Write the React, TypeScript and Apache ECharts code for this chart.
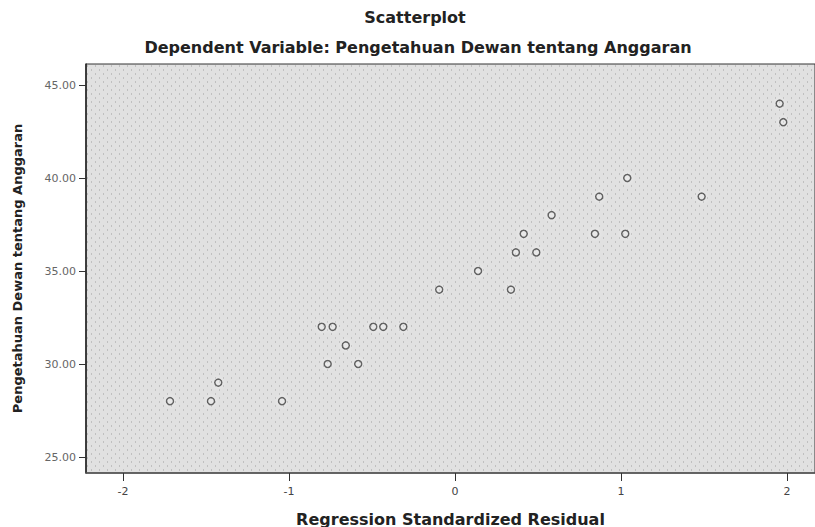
import React, { useEffect, useRef } from "react";
import * as echarts from "echarts";

const titleText = "Scatterplot";
const subtitleText = "Dependent Variable: Pengetahuan Dewan tentang Anggaran";
const xAxisName = "Regression Standardized Residual";
const yAxisName = "Pengetahuan Dewan tentang Anggaran";

const xTicks = [-2, -1, 0, 1, 2];
const yTicks = [25, 30, 35, 40, 45];

const residuals = [
  1.956, 1.978, 1.038, 0.869, 1.486, 0.582, 0.414, 0.843, 1.026, 0.367,
  0.49, 0.139, -0.095, 0.337, -0.803, -0.737, -0.492, -0.432, -0.311, -0.658,
  -0.767, -0.583, -1.426, -1.717, -1.47, -1.042,
];
const knowledge = [
  44, 43, 40, 39, 39, 38, 37, 37, 37, 36,
  36, 35, 34, 34, 32, 32, 32, 32, 32, 31,
  30, 30, 29, 28, 28, 28,
];

function makeTile(): HTMLCanvasElement | null {
  try {
    const c = document.createElement("canvas");
    c.width = 8;
    c.height = 8;
    const ctx = c.getContext("2d");
    if (!ctx) return null;
    ctx.fillStyle = "#e1e1e1";
    ctx.fillRect(0, 0, 8, 8);
    ctx.fillStyle = "#c0c0c0";
    ctx.fillRect(1, 1, 1, 2);
    ctx.fillRect(5, 5, 1, 2);
    return c;
  } catch (e) {
    return null;
  }
}

export default function App() {
  const ref = useRef<HTMLDivElement>(null);
  useEffect(() => {
    if (!ref.current) return;
    const chart = echarts.init(ref.current, undefined, { renderer: "svg" });
    const data = residuals.map((x, i) => [x, knowledge[i]]);
    const font = "DejaVu Sans";
    const tile = makeTile();
    chart.setOption({
      animation: false,
      backgroundColor: "#ffffff",
      title: [
        {
          text: titleText,
          left: 410,
          top: 4,
          textAlign: "center",
          textStyle: { fontFamily: font, fontWeight: "bold", fontSize: 16, color: "#222" },
        },
        {
          text: subtitleText,
          left: 413,
          top: 34,
          textAlign: "center",
          textStyle: { fontFamily: font, fontWeight: "bold", fontSize: 16, color: "#222" },
        },
      ],
      graphic: tile
        ? [
            {
              type: "rect",
              left: 86,
              top: 64,
              z: -10,
              silent: true,
              shape: { width: 729, height: 409 },
              style: { fill: { image: tile, repeat: "repeat" } as any },
            },
          ]
        : [],
      grid: {
        left: 86,
        top: 64,
        right: 0,
        bottom: 54,
        outerBoundsMode: "none",
        containLabel: false,
        show: true,
        backgroundColor: tile ? "rgba(0,0,0,0)" : "#dcdcdc",
        borderColor: "#333",
        borderWidth: 1,
      },
      xAxis: {
        type: "value",
        min: -2.223,
        max: 2.169,
        name: xAxisName,
        nameLocation: "middle",
        nameGap: 38,
        nameTextStyle: { fontFamily: font, fontWeight: "bold", fontSize: 16, color: "#222" },
        splitLine: { show: false },
        axisLine: { show: true, onZero: false, lineStyle: { color: "#555", width: 1.5 } },
        axisTick: { show: true, length: 8, customValues: xTicks, lineStyle: { color: "#333" } },
        axisLabel: {
          customValues: xTicks,
          fontFamily: font,
          fontSize: 11,
          color: "#444",
          margin: 13,
          formatter: (v: number) => String(v),
        },
      },
      yAxis: {
        type: "value",
        min: 24.14,
        max: 46.13,
        name: yAxisName,
        nameLocation: "middle",
        nameGap: 62,
        nameTextStyle: { fontFamily: font, fontWeight: "bold", fontSize: 13, color: "#222" },
        splitLine: { show: false },
        axisLine: { show: true, onZero: false, lineStyle: { color: "#222", width: 1.5 } },
        axisTick: { show: true, length: 7, customValues: yTicks, lineStyle: { color: "#333" } },
        axisLabel: {
          customValues: yTicks,
          fontFamily: font,
          fontSize: 11,
          color: "#666",
          margin: 10,
          formatter: (v: number) => v.toFixed(2),
        },
      },
      series: [
        {
          type: "scatter",
          data,
          symbol: "circle",
          symbolSize: 7,
          z: 5,
          itemStyle: {
            color: "rgba(0,0,0,0)",
            borderColor: "#222",
            borderWidth: 1.6,
            shadowColor: "#ffffff",
            shadowBlur: 4,
          },
        },
      ],
    });
    return () => chart.dispose();
  }, []);
  return (
    <div
      ref={ref}
      style={{ position: "fixed", left: 0, top: 0, width: 815, height: 527 }}
    />
  );
}
